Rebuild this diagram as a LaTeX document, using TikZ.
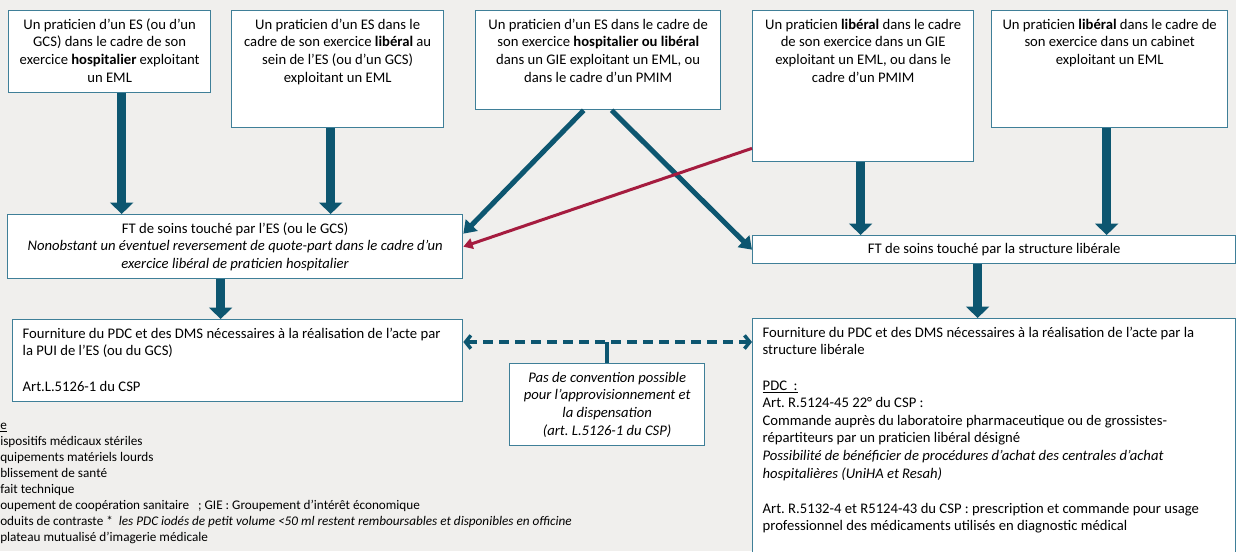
\documentclass[tikz,border=0pt]{standalone}
\usepackage{fontspec}
\setmainfont{Carlito}
\usetikzlibrary{arrows.meta,calc}
\definecolor{bgGrey}{HTML}{F0EFED}
\definecolor{frame}{HTML}{3F7F98}
\definecolor{flow}{HTML}{0D5670}
\definecolor{backflow}{HTML}{A51C3F}
\frenchspacing
\newcommand{\boxfont}{\fontsize{11}{13.2}\selectfont}
\newcommand{\topcell}[3]{\parbox[c][#2][t]{#1}{\centering\rule{0pt}{14pt}#3}}
\newcommand{\leftcell}[3]{\parbox[c][#2][t]{#1}{\raggedright\rule{0pt}{14pt}#3}}

\begin{document}
\begin{tikzpicture}[
  x=0.75pt,y=-0.75pt,
  box/.style={draw=frame,fill=white,line width=1pt,inner xsep=7.5pt,inner ysep=0pt,
    anchor=north west,font=\boxfont},
  thick arrow/.style={draw=flow,line width=7pt,-{Triangle[width=17pt,length=8.5pt]}},
  diag arrow/.style={draw=flow,line width=3.75pt,-{Triangle[width=12pt,length=9pt]}},
  back arrow/.style={draw=backflow,line width=2.25pt,-{Triangle[width=8pt,length=7pt]}},
  dash arrow/.style={draw=flow,line width=2.6pt,dash pattern=on 7.5pt off 4.5pt,
    {Straight Barb[length=4pt,width=10pt]}-{Straight Barb[length=4pt,width=10pt]}},
  link/.style={draw=flow,line width=2.6pt}
]
  \clip (0,0) rectangle (1236,551);
  \fill[bgGrey] (0,0) rectangle (1236,551);

  % praticiens
  \node[box] (hosp) at (8,10) {\topcell{136.5pt}{61.5pt}{Un praticien d’un ES (ou d’un\\GCS) dans le cadre de son\\exercice \textbf{hospitalier} exploitant\\un EML}};
  \node[box] (libes) at (231,10) {\topcell{144pt}{87.75pt}{Un praticien d’un ES dans le\\cadre de son exercice \textbf{libéral} au\\sein de l’ES (ou d’un GCS)\\exploitant un EML}};
  \node[box] (gie) at (475,10) {\topcell{168.75pt}{74.25pt}{Un praticien d’un ES dans le cadre de\\son exercice \textbf{hospitalier ou libéral}\\dans un GIE exploitant un EML, ou\\dans le cadre d’un PMIM}};
  \node[box] (libgie) at (752,10) {\topcell{150.75pt}{113.25pt}{Un praticien \textbf{libéral} dans le cadre\\de son exercice dans un GIE\\exploitant un EML, ou dans le\\cadre d’un PMIM}};
  \node[box] (cabinet) at (991,10) {\topcell{162pt}{87.75pt}{Un praticien \textbf{libéral} dans le cadre de\\son exercice dans un cabinet\\exploitant un EML}};

  % forfaits techniques
  \node[box,align=center,minimum width=341.25pt,minimum height=48pt] (ftes) at (7,214)
    {FT de soins touché par l’ES (ou le GCS)\\\textit{Nonobstant un éventuel reversement de quote-part dans le cadre d’un}\\\textit{exercice libéral de praticien hospitalier}};
  \node[box,align=center,minimum width=362.25pt,minimum height=21pt] (ftlib) at (752,235)
    {FT de soins touché par la structure libérale};

  % fournitures
  \node[box] (pui) at (12,319) {\leftcell{322.5pt}{61.5pt}{Fourniture du PDC et des DMS nécessaires à la réalisation de l’acte par\\la PUI de l’ES (ou du GCS)\\[13.2pt]Art.L.5126-1 du CSP}};
  \node[box] (libstruct) at (752,318) {\leftcell{347.25pt}{181.5pt}{Fourniture du PDC et des DMS nécessaires à la réalisation de l’acte par la\\structure libérale\\[13.2pt]\underline{PDC~ :}\\Art. R.5124-45 22° du CSP :\\Commande auprès du laboratoire pharmaceutique ou de grossistes-\\répartiteurs par un praticien libéral désigné\\\textit{Possibilité de bénéficier de procédures d’achat des centrales d’achat}\\\textit{hospitalières (UniHA et Resah)}\\[13.2pt]Art. R.5132-4 et R5124-43 du CSP : prescription et commande pour usage\\professionnel des médicaments utilisés en diagnostic médical}};
  \node[box,align=center,inner xsep=4pt,minimum width=146.25pt,minimum height=61.5pt,
    font=\boxfont\itshape] (note) at (509,363)
    {Pas de convention possible\\pour l’approvisionnement et\\la dispensation\\(art. L.5126-1 du CSP)};

  % lexique
  \node[anchor=north west,align=left,inner sep=0pt,font=\fontsize{9.9}{12}\selectfont] (legend) at (0,423)
    {\underline{e}\\
     ispositifs médicaux stériles\\
     quipements matériels lourds\\
     blissement de santé\\
     fait technique\\
     oupement de coopération sanitaire ~ ; GIE : Groupement d’intérêt économique\\
     oduits de contraste * ~\textit{les PDC iodés de petit volume <50 ml restent remboursables et disponibles en officine}\\
     plateau mutualisé d’imagerie médicale};

  % flux
  \draw[thick arrow] ([xshift=9pt]hosp.south) -- ([xshift=9pt]hosp.south |- ftes.north);
  \draw[thick arrow] ([xshift=-5.25pt]libes.south) -- ([xshift=-5.25pt]libes.south |- ftes.north);
  \draw[thick arrow] ([xshift=-10.9pt]ftes.south) -- ([xshift=-10.9pt]ftes.south |- pui.north);
  \draw[thick arrow] ([xshift=-1.9pt]libgie.south) -- ([xshift=-1.9pt]libgie.south |- ftlib.north);
  \draw[thick arrow] ([xshift=-2.25pt]cabinet.south) -- ([xshift=-2.25pt]cabinet.south |- ftlib.north);
  \draw[thick arrow] ([xshift=-12.4pt]ftlib.south) -- ([xshift=-12.4pt]ftlib.south |- libstruct.north);
  \draw[diag arrow] ([xshift=-10.9pt]gie.south) -- ([yshift=9.75pt]ftes.east);
  \draw[diag arrow] ([xshift=10.1pt]gie.south) -- (ftlib.west);
  \draw[back arrow] ([yshift=10.5pt]libgie.south west) -- (ftes.east);

  % pas de convention
  \draw[link] (note.north) -- ++(0,-21) coordinate (split);
  \draw[dash arrow] (pui.east |- split) -- (libstruct.west |- split);
\end{tikzpicture}
\end{document}
